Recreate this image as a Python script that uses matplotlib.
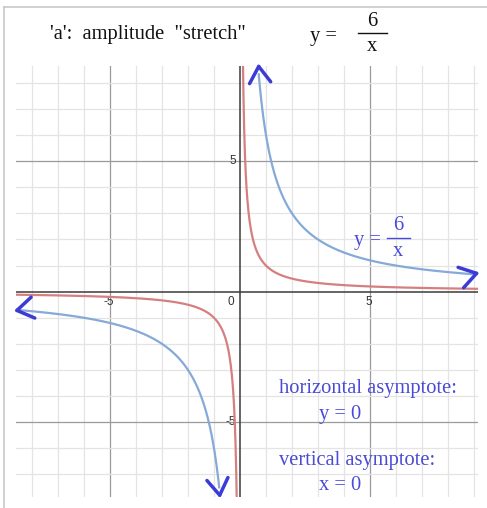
import numpy as np
import matplotlib
matplotlib.use("Agg")
import matplotlib.pyplot as plt
from matplotlib.lines import Line2D

# ---- data ----
x_range = (-8.615, 9.154)
y_range = (-7.87, 8.65)
grid_x = list(range(-8, 10))
grid_y = list(range(-7, 9))
major_ticks = [-5, 5]
tick_labels_x = {-5: "-5", 5: "5"}
tick_labels_y = {5: "5", -5: "-5"}

a_red = 1.0      # y = 1/x
a_blue = 6.0     # y = 6/x
blue_pos_x = (0.72, 9.05)
blue_neg_x = (-8.58, -0.80)

red_color = "#d67f80"
blue_color = "#86aad8"
arrow_color = "#3b3bd6"
text_blue = "#4a4ad8"

W, H = 487, 508
fig = plt.figure(figsize=(W / 100, H / 100), dpi=100)


def fx(px):
    return px / W


def fy(py):
    return 1 - py / H


# frame lines (top and left)
fig.add_artist(Line2D([fx(4), 1], [fy(7), fy(7)], color="#c8c8c8", lw=1.2))
fig.add_artist(Line2D([fx(4), fx(4)], [0, fy(7)], color="#c8c8c8", lw=1.2))

ax = fig.add_axes([fx(16), fy(497), fx(478) - fx(16), fy(66) - fy(497)])
ax.set_xlim(*x_range)
ax.set_ylim(*y_range)
for s in ax.spines.values():
    s.set_visible(False)
ax.set_xticks([])
ax.set_yticks([])

# grid
for gx in grid_x:
    if gx == 0:
        continue
    c = "#9a9a9a" if gx in major_ticks else "#e4e4e4"
    ax.axvline(gx, color=c, lw=0.9, zorder=1)
for gy in grid_y:
    if gy == 0:
        continue
    c = "#9a9a9a" if gy in major_ticks else "#e4e4e4"
    ax.axhline(gy, color=c, lw=0.9, zorder=1)
ax.axvline(0, color="#3a3a3a", lw=1.1, zorder=2)
ax.axhline(0, color="#3a3a3a", lw=1.1, zorder=2)

# tick labels
tick_kw = dict(textcoords="offset points", fontsize=8.5, color="#333333",
               family="Liberation Sans")
for v, lab in tick_labels_x.items():
    ax.annotate(lab, (v, 0), xytext=(-1, -3), ha="center", va="top", **tick_kw)
for v, lab in tick_labels_y.items():
    ax.annotate(lab, (0, v), xytext=(-3, 0), ha="right", va="center", **tick_kw)
ax.annotate("0", (0, 0), xytext=(-4, -3), ha="right", va="top", **tick_kw)

# red curve y = 1/x
xr_pos = np.linspace(0.1, x_range[1], 600)
xr_neg = np.linspace(x_range[0], -0.1, 600)
ax.plot(xr_pos, a_red / xr_pos, color=red_color, lw=1.6, zorder=3)
ax.plot(xr_neg, a_red / xr_neg, color=red_color, lw=1.6, zorder=3)

# blue curve y = 6/x
xb_pos = np.linspace(*blue_pos_x, 600)
xb_neg = np.linspace(*blue_neg_x, 600)
ax.plot(xb_pos, a_blue / xb_pos, color=blue_color, lw=1.6, zorder=3)
ax.plot(xb_neg, a_blue / xb_neg, color=blue_color, lw=1.6, zorder=3)


def chevron(x, y, ang, arm=14, spread=33):
    # hand-drawn style arrow head at (x, y) pointing toward angle ang (deg)
    for s in (spread, -spread):
        a = np.deg2rad(ang + 180 + s)
        ax.annotate("", xy=(x, y), xytext=(arm * np.cos(a), arm * np.sin(a)),
                    xycoords="data", textcoords="offset points",
                    arrowprops=dict(arrowstyle="-", color=arrow_color, lw=2.5,
                                    shrinkA=0, shrinkB=0),
                    annotation_clip=False, zorder=5)


chevron(blue_pos_x[0], a_blue / blue_pos_x[0] + 0.3, 95)
chevron(blue_pos_x[1] + 0.05, a_blue / blue_pos_x[1] + 0.04, 15)
chevron(blue_neg_x[0], a_blue / blue_neg_x[0] - 0.02, 190)
chevron(blue_neg_x[1] + 0.02, a_blue / blue_neg_x[1] - 0.3, -82)

serif = "Liberation Serif"
fs = 14.8

# title texts
fig.text(fx(50), fy(35), "'a':  amplitude  \"stretch\"", fontsize=fs,
         family=serif, color="#111111", ha="left", va="center")
fig.text(fx(310), fy(36), "y =", fontsize=fs, family=serif,
         color="#111111", ha="left", va="center")
fig.text(fx(372), fy(21), "6", fontsize=fs, family=serif,
         color="#111111", ha="center", va="center")
fig.text(fx(372), fy(46), "x", fontsize=fs, family=serif,
         color="#111111", ha="center", va="center")
fig.add_artist(Line2D([fx(358), fx(387)], [fy(32.5), fy(32.5)], color="#111111", lw=1.0))

# in-plot labels
fig.text(fx(354), fy(241), "y =", fontsize=fs, family=serif,
         color=text_blue, ha="left", va="center")
fig.text(fx(398), fy(226), "6", fontsize=fs, family=serif,
         color=text_blue, ha="center", va="center")
fig.text(fx(398), fy(251), "x", fontsize=fs, family=serif,
         color=text_blue, ha="center", va="center")
fig.add_artist(Line2D([fx(387), fx(410)], [fy(237.5), fy(237.5)], color=text_blue, lw=1.0))

fig.text(fx(279), fy(389), "horizontal asymptote:", fontsize=fs, family=serif,
         color=text_blue, ha="left", va="center")
fig.text(fx(319), fy(414), "y = 0", fontsize=fs, family=serif,
         color=text_blue, ha="left", va="center")
fig.text(fx(279), fy(460), "vertical asymptote:", fontsize=fs, family=serif,
         color=text_blue, ha="left", va="center")
fig.text(fx(319), fy(485), "x = 0", fontsize=fs, family=serif,
         color=text_blue, ha="left", va="center")

fig.savefig("out.png", dpi=100)
